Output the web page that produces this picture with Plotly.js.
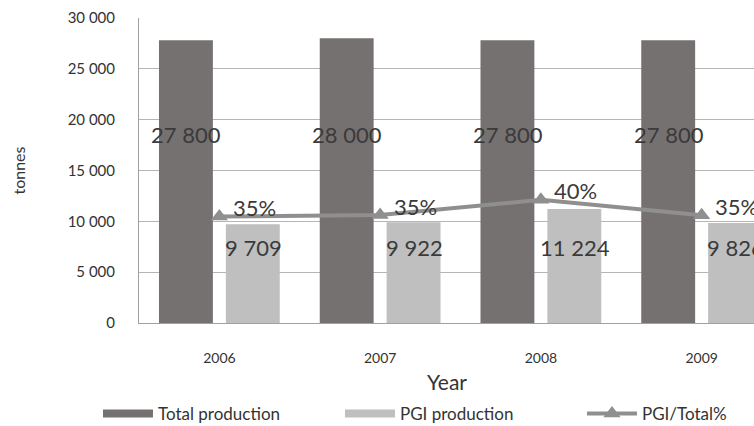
<!DOCTYPE html>
<html>
<head>
<meta charset="utf-8">
<script src="https://cdn.plot.ly/plotly-3.0.1.min.js"></script>
<style>
html, body { margin: 0; padding: 0; overflow: hidden; background: #fff; width: 754px; height: 426px; }
#chart { width: 960px; height: 450px; }
#err { position: absolute; left: 150px; top: 30px; color: red; font: 12px sans-serif; }
</style>
</head>
<body>
<div id="chart"></div>
<div id="err"></div>
<script>
const years = ['2006', '2007', '2008', '2009'];
const totalProduction = [27800, 28000, 27800, 27800];
const pgiProduction = [9709, 9922, 11224, 9826];
const pgiShare = [0.349, 0.354, 0.404, 0.353];
const yTickVals = [0, 5000, 10000, 15000, 20000, 25000, 30000];
const yTickText = ['0', '5 000', '10 000', '15 000', '20 000', '25 000', '30 000'];

const FONT = 'Lato, "Open Sans", sans-serif';
const TXT = '#3a3a3a';

function fmt(v) {
  return String(v).replace(/\B(?=(\d{3})+(?!\d))/g, ' ');
}

try {
const traces = [
  {
    type: 'bar', name: 'Total production', x: years, y: totalProduction,
    marker: { color: '#767171' }, hoverinfo: 'skip'
  },
  {
    type: 'bar', name: 'PGI production', x: years, y: pgiProduction,
    marker: { color: '#bfbfbf' }, hoverinfo: 'skip'
  },
  {
    type: 'scatter', mode: 'lines+markers', name: 'PGI/Total%', x: years, y: pgiShare,
    yaxis: 'y2',
    line: { color: '#8f8f8f', width: 4 },
    marker: { symbol: 'triangle-up', size: 15, color: '#8f8f8f' },
    hoverinfo: 'skip'
  }
];

const labelFont = { family: FONT, size: 22, color: TXT };
const annotations = [];
years.forEach((yr, i) => {
  annotations.push({ x: i, y: 18500, xref: 'x', yref: 'y', xshift: -33, text: fmt(totalProduction[i]),
    showarrow: false, font: labelFont });
  annotations.push({ x: i, y: 7400, xref: 'x', yref: 'y', xshift: 34, text: fmt(pgiProduction[i]),
    showarrow: false, font: labelFont });
  annotations.push({ x: i, y: pgiShare[i], xref: 'x', yref: 'y2', xshift: 35, yshift: 9,
    text: Math.round(pgiShare[i] * 100) + '%',
    showarrow: false, font: labelFont });
});
annotations.push({ x: 0.479, y: -0.193, xref: 'paper', yref: 'paper', yanchor: 'middle', xanchor: 'center',
  text: 'Year', showarrow: false, font: { family: FONT, size: 21, color: '#333' } });

const layout = {
  width: 960, height: 450,
  margin: { l: 139, r: 178, t: 18, b: 127, pad: 0 },
  paper_bgcolor: '#ffffff', plot_bgcolor: '#ffffff',
  font: { family: FONT, color: TXT },
  showlegend: true,
  barmode: 'group', bargap: 0.168, bargroupgap: 0.194,
  xaxis: {
    type: 'category', range: [-0.5, 3.5],
    showgrid: false, showline: true, linecolor: '#a0a0a0', linewidth: 1,
    ticks: '', tickfont: { family: FONT, size: 14, color: '#333' },
    ticklabelstandoff: 22
  },
  yaxis: {
    range: [0, 30000], tickvals: yTickVals, ticktext: yTickText,
    showgrid: true, gridcolor: '#b5b5b5', gridwidth: 1,
    showline: true, linecolor: '#a0a0a0', linewidth: 1,
    zeroline: false, ticks: '',
    tickfont: { family: FONT, size: 15, color: '#333' },
    ticklabelstandoff: 20,
    title: { text: 'tonnes', font: { family: FONT, size: 16, color: '#333' }, standoff: 38 }
  },
  yaxis2: { overlaying: 'y', range: [0, 1], visible: false },
  legend: {
    orientation: 'h', xref: 'paper', yref: 'paper',
    x: -0.0638, xanchor: 'left', y: -0.298, yanchor: 'middle',
    itemwidth: 50, entrywidth: 177, entrywidthmode: 'pixels',
    font: { family: FONT, size: 17, color: '#333' },
    traceorder: 'normal', itemclick: false
  },
  annotations: annotations
};

function fixSwatches() {
  const items = document.querySelectorAll('#chart .legend g.traces');
  let n = 0;
  items.forEach((g, k) => {
    if (k < 2) {
      g.querySelectorAll('.legendpoints path').forEach(p => {
        p.setAttribute('d', 'M25,4H-25V-4H25Z'); n++;
      });
    }
  });
  return n;
}

Plotly.newPlot('chart', traces, layout, { staticPlot: true, displayModeBar: false }).then(gd => {
  const n = fixSwatches();
  setTimeout(fixSwatches, 200);
  setTimeout(fixSwatches, 800);
  if (n === 0) document.getElementById('err').textContent = 'no swatch paths';
}).catch(e => { document.getElementById('err').textContent = 'ERR ' + e; });
} catch (e) { document.getElementById('err').textContent = 'ERR ' + e; }
</script>
</body>
</html>
